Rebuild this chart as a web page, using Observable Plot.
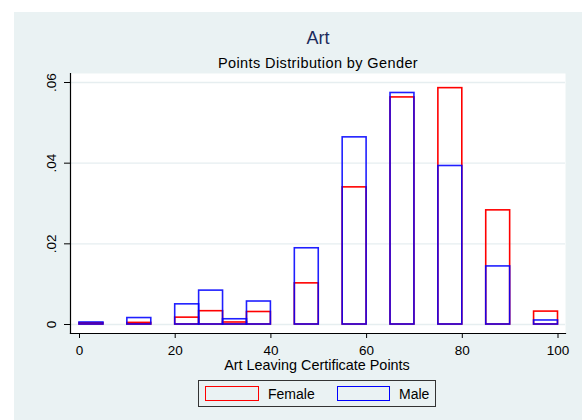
<!DOCTYPE html>
<html>
<head>
<meta charset="utf-8">
<script src="https://cdn.jsdelivr.net/npm/d3@7"></script>
<script src="https://cdn.jsdelivr.net/npm/@observablehq/plot@0.6"></script>
<style>
  html, body { margin: 0; padding: 0; background: #ffffff; }
  body { font-family: "Liberation Sans", Arial, Helvetica, sans-serif; }
  #wrap { position: relative; width: 582px; height: 420px; overflow: hidden; background: #ffffff; }
  #bg { position: absolute; left: 14px; top: 12px; right: 0; bottom: 0; background: #EAF2F3; }
  .txt { position: absolute; white-space: nowrap; }
  #title { left: 0; width: 636px; text-align: center; top: 29px; font-size: 18px; line-height: 18px; color: #1c2b5c; }
  #subtitle { left: 0; width: 636px; text-align: center; top: 55.5px; font-size: 14.5px; line-height: 14.5px; letter-spacing: 0.4px; color: #000; }
  #xlabel { left: 0; width: 634px; text-align: center; top: 357.5px; font-size: 14.4px; line-height: 14.4px; color: #000; }
  #chart { position: absolute; left: 0; top: 63px; }
  #legend { position: absolute; left: 198px; top: 380px; width: 238px; height: 27px; box-sizing: border-box; border: 1px solid #333; }
  .sw { position: absolute; top: 5px; height: 15px; box-sizing: border-box; }
  .lt { position: absolute; top: 5.5px; font-size: 14px; line-height: 14px; color: #000; }
</style>
</head>
<body>
<div id="wrap">
  <div id="bg"></div>
  <div id="title" class="txt">Art</div>
  <div id="subtitle" class="txt">Points Distribution by Gender</div>
  <div id="chart"></div>
  <div id="xlabel" class="txt">Art Leaving Certificate Points</div>
  <div id="legend">
    <div class="sw" style="left:6px;width:54px;border:1.5px solid #ff0000;"></div>
    <div class="lt" style="left:69px;">Female</div>
    <div class="sw" style="left:138px;width:53px;border:1.5px solid #0000ff;"></div>
    <div class="lt" style="left:200px;">Male</div>
  </div>
</div>
<script>
// Histogram bins (start of each 5-point bin)
const binStarts = [0, 10, 20, 25, 30, 35, 45, 55, 65, 75, 85, 95];
const binWidth = 5;
// Densities
const femaleDensity = [0.0003, 0.0004, 0.0017, 0.0033, 0.0005, 0.0031, 0.0102, 0.0340, 0.0563, 0.0586, 0.0283, 0.0032];
const maleDensity   = [0.0005, 0.0016, 0.0050, 0.0084, 0.0013, 0.0057, 0.0189, 0.0464, 0.0574, 0.0393, 0.0144, 0.0010];
const xTicks = [0, 20, 40, 60, 80, 100];
const yTicks = [0, 0.02, 0.04, 0.06];
const yTickLabels = ["0", ".02", ".04", ".06"];

const female = binStarts.map((s, i) => ({x1: s, x2: s + binWidth, density: femaleDensity[i]}));
const male = binStarts.map((s, i) => ({x1: s, x2: s + binWidth, density: maleDensity[i]}));

const chart = Plot.plot({
  width: 582,
  height: 310,
  marginLeft: 70,
  marginRight: 17,
  marginTop: 10,
  marginBottom: 40,
  style: {background: "transparent", fontFamily: "'Liberation Sans', Arial, Helvetica, sans-serif", color: "#000", overflow: "visible"},
  x: {domain: [0, 100], insetLeft: 9, insetRight: 7.5},
  y: {domain: [0, 0.06], insetTop: 9, insetBottom: 9},
  marks: [
    Plot.frame({fill: "#ffffff", stroke: "none"}),
    Plot.ruleY(yTicks, {stroke: "#E6EEF0", strokeWidth: 1.4}),
    Plot.rectY(female, {x1: "x1", x2: "x2", y: "density", fill: "none", stroke: "#ff0000", strokeWidth: 1.6}),
    Plot.rectY(male, {x1: "x1", x2: "x2", y: "density", fill: "none", stroke: "#0000ff", strokeWidth: 1.6, strokeOpacity: 0.88}),
    Plot.frame({anchor: "left", stroke: "#000", strokeWidth: 1.2}),
    Plot.frame({anchor: "bottom", stroke: "#000", strokeWidth: 1.2}),
    Plot.axisY({ticks: yTicks, tickSize: 6, tickPadding: 9, tickRotate: -90, fontSize: 13.5, label: null,
      tickFormat: d => yTickLabels[yTicks.indexOf(d)]}),
    Plot.axisX({ticks: xTicks, tickSize: 5, tickPadding: 6.5, fontSize: 13.5, label: null, tickFormat: d => String(d)})
  ]
});
document.getElementById("chart").appendChild(chart);
</script>
</body>
</html>
